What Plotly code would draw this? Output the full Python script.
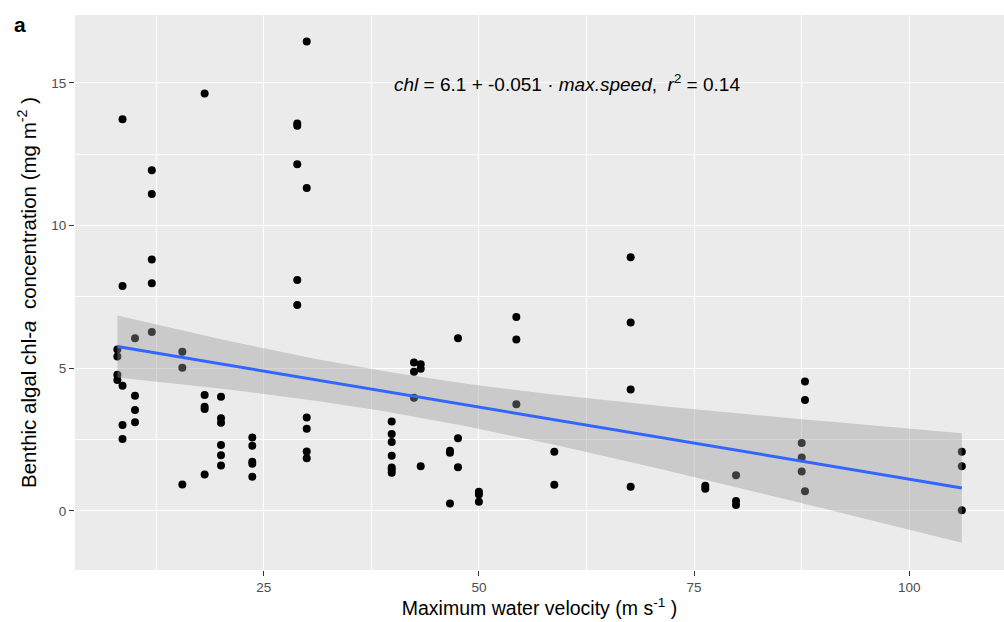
import numpy as np
import plotly.graph_objects as go

# Maximum water velocity (m s^-1) per sample
velocity = [8.0]*4 + [8.6]*5 + [10.05]*4 + [12.0]*5 + [15.55]*3 + [18.14]*5 + [20.04]*6 + \
    [23.68]*5 + [28.9]*5 + [30.0]*6 + [39.87]*7 + [42.46]*3 + [43.24]*3 + [46.64]*3 + \
    [47.57]*3 + [50.0]*3 + [54.35]*3 + [58.76]*2 + [67.63]*4 + [76.3]*2 + [79.87]*3 + \
    [87.5]*3 + [87.88]*3 + [106.1]*3

# Benthic algal chl-a concentration (mg m^-2)
chl = [5.66, 5.41, 4.77, 4.59,
       13.73, 7.88, 4.39, 3.01, 2.52,
       6.05, 4.04, 3.54, 3.11,
       11.94, 11.11, 8.81, 7.98, 6.27,
       5.58, 5.02, 0.93,
       14.63, 4.06, 3.65, 3.57, 1.28,
       4.00, 3.25, 3.09, 2.31, 1.95, 1.59,
       2.57, 2.28, 1.72, 1.65, 1.20,
       13.58, 13.50, 12.15, 8.09, 7.22,
       16.45, 11.32, 3.27, 2.88, 2.08, 1.85,
       3.13, 2.70, 2.42, 1.93, 1.52, 1.44, 1.34,
       5.20, 4.88, 3.97,
       5.14, 4.98, 1.57,
       2.11, 2.04, 0.26,
       6.05, 2.55, 1.53,
       0.67, 0.58, 0.32,
       6.80, 6.01, 3.74,
       2.07, 0.92,
       8.89, 6.60, 4.26, 0.85,
       0.88, 0.78,
       1.25, 0.35, 0.21,
       2.38, 1.87, 1.38,
       4.54, 3.89, 0.69,
       2.07, 1.57, 0.02]

x_ticks = [25, 50, 75, 100]
y_ticks = [0, 5, 10, 15]

# linear model fit with 95% confidence band (as geom_smooth(method="lm"))
x = np.array(velocity, dtype=float)
y = np.array(chl, dtype=float)
n = len(x)
b1, b0 = np.polyfit(x, y, 1)
resid = y - (b0 + b1 * x)
s = np.sqrt(np.sum(resid**2) / (n - 2))
xbar = x.mean()
sxx = np.sum((x - xbar) ** 2)
df = n - 2
z = 1.959964
tq = z + (z**3 + z) / (4 * df) + (5 * z**5 + 16 * z**3 + 3 * z) / (96 * df**2)
xs = np.linspace(x.min(), x.max(), 80)
fit = b0 + b1 * xs
se = s * np.sqrt(1 / n + (xs - xbar) ** 2 / sxx)
upper = fit + tq * se
lower = fit - tq * se

fig = go.Figure()
fig.add_trace(go.Scatter(x=velocity, y=chl, mode="markers",
                         marker=dict(color="black", size=8), showlegend=False))
fig.add_trace(go.Scatter(x=xs, y=lower, mode="lines", line=dict(width=0),
                         showlegend=False, hoverinfo="skip"))
fig.add_trace(go.Scatter(x=xs, y=upper, mode="lines", line=dict(width=0),
                         fill="tonexty", fillcolor="rgba(153,153,153,0.4)",
                         showlegend=False, hoverinfo="skip"))
fig.add_trace(go.Scatter(x=xs, y=fit, mode="lines",
                         line=dict(color="#3366FF", width=3), showlegend=False))

axis_common = dict(
    showgrid=True, gridcolor="white", gridwidth=1.1, zeroline=False,
    ticks="outside", ticklen=5, tickwidth=1.1, tickcolor="#333333",
    tickfont=dict(family="Liberation Sans, Arial", size=13.5, color="#4D4D4D"),
    showline=False, automargin=False,
)

fig.update_layout(
    width=1004, height=622,
    margin=dict(l=75, r=0, t=15, b=52),
    paper_bgcolor="white", plot_bgcolor="#EBEBEB",
    font=dict(family="Liberation Sans, Arial", color="black"),
    xaxis=dict(range=[3.08, 111.0], tickvals=x_ticks,
               minor=dict(tickvals=[12.5, 37.5, 62.5, 87.5], showgrid=True,
                          gridcolor="white", gridwidth=0.55, ticks=""),
               title=dict(text="Maximum water velocity (m s<sup>-1</sup> )",
                          font=dict(size=19.5, color="black"), standoff=4),
               **axis_common),
    yaxis=dict(range=[-2.07, 17.38], tickvals=y_ticks,
               minor=dict(tickvals=[2.5, 7.5, 12.5], showgrid=True,
                          gridcolor="white", gridwidth=0.55, ticks=""),
               title=dict(text="Benthic algal chl-<i>a</i>  concentration (mg m<sup>-2</sup> )",
                          font=dict(size=20.5, color="black"), standoff=9),
               **axis_common),
    annotations=[
        dict(x=60.2, y=15.0, xref="x", yref="y", showarrow=False,
             text="<i>chl</i> = 6.1 + -0.051 · <i>max.speed</i>,  <i>r</i><sup>2</sup> = 0.14",
             font=dict(size=19, color="black", family="Liberation Sans, Arial"),
             xanchor="center", yanchor="middle"),
        dict(x=-0.059, y=0.982, xref="paper", yref="paper", showarrow=False,
             text="<b>a</b>", font=dict(size=21, color="black", family="Liberation Sans, Arial"),
             xanchor="center", yanchor="middle"),
    ],
)

fig.write_html("out.html", config={"displayModeBar": False},
               post_script="document.body.style.margin='0';document.body.style.overflow='hidden';")
